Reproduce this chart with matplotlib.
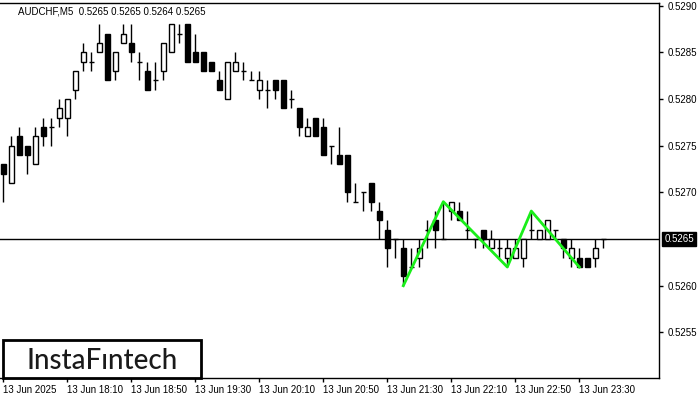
import matplotlib
matplotlib.use("Agg")
import matplotlib.pyplot as plt
import matplotlib.transforms as mtransforms
from matplotlib.patches import Rectangle

plt.rcParams['font.family'] = ['Liberation Sans', 'DejaVu Sans']

# AUDCHF M5 candles, 13 Jun 17:30 -> 23:45
opens = [0.5273, 0.5271, 0.5276, 0.5275, 0.5273, 0.5277, 0.5277, 0.5278, 0.5278, 0.5281,
         0.5284, 0.5284, 0.5285, 0.5287, 0.5283, 0.5286, 0.5286, 0.5284, 0.5283, 0.5282,
         0.5283, 0.5285, 0.5287, 0.5288, 0.5285, 0.5285, 0.5284, 0.5282, 0.5280, 0.5283,
         0.5283, 0.5282, 0.5281, 0.5281, 0.5282, 0.5282, 0.5280, 0.5279, 0.5276, 0.5278,
         0.5277, 0.5275, 0.5274, 0.5274, 0.5269, 0.5270, 0.5271, 0.5268, 0.5266, 0.5265,
         0.5264, 0.5262, 0.5263, 0.5266, 0.5267, 0.5265, 0.5268, 0.5268, 0.5266, 0.5265,
         0.5266, 0.5264, 0.5264, 0.5263, 0.5263, 0.5263, 0.5266, 0.5265, 0.5265, 0.5266,
         0.5265, 0.5263, 0.5263, 0.5263, 0.5263, 0.5265]
highs = [0.5273, 0.5276, 0.5277, 0.5275, 0.5277, 0.5278, 0.5278, 0.5280, 0.5280, 0.5283,
         0.5286, 0.5285, 0.5288, 0.5287, 0.5285, 0.5288, 0.5288, 0.5285, 0.5284, 0.5284,
         0.5286, 0.5288, 0.5288, 0.5288, 0.5287, 0.5285, 0.5284, 0.5283, 0.5284, 0.5285,
         0.5284, 0.5283, 0.5283, 0.5282, 0.5282, 0.5282, 0.5281, 0.5279, 0.5278, 0.5278,
         0.5278, 0.5275, 0.5277, 0.5274, 0.5271, 0.5270, 0.5271, 0.5269, 0.5267, 0.5265,
         0.5265, 0.5264, 0.5265, 0.5267, 0.5268, 0.5269, 0.5269, 0.5269, 0.5268, 0.5265,
         0.5266, 0.5266, 0.5265, 0.5265, 0.5265, 0.5265, 0.5268, 0.5266, 0.5267, 0.5266,
         0.5265, 0.5265, 0.5264, 0.5263, 0.5265, 0.5265]
lows = [0.5269, 0.5271, 0.5274, 0.5272, 0.5273, 0.5275, 0.5275, 0.5277, 0.5276, 0.5280,
        0.5283, 0.5283, 0.5285, 0.5282, 0.5282, 0.5286, 0.5284, 0.5282, 0.5281, 0.5281,
        0.5282, 0.5285, 0.5286, 0.5284, 0.5284, 0.5283, 0.5283, 0.5281, 0.5280, 0.5283,
        0.5282, 0.5282, 0.5280, 0.5279, 0.5280, 0.5279, 0.5279, 0.5276, 0.5276, 0.5276,
        0.5274, 0.5273, 0.5273, 0.5269, 0.5269, 0.5268, 0.5268, 0.5265, 0.5262, 0.5263,
        0.5260, 0.5262, 0.5262, 0.5264, 0.5264, 0.5265, 0.5267, 0.5267, 0.5265, 0.5264,
        0.5264, 0.5264, 0.5263, 0.5262, 0.5263, 0.5262, 0.5265, 0.5265, 0.5265, 0.5265,
        0.5263, 0.5262, 0.5262, 0.5262, 0.5262, 0.5264]
closes = [0.5272, 0.5275, 0.5274, 0.5274, 0.5276, 0.5276, 0.5277, 0.5279, 0.5280, 0.5283,
          0.5285, 0.5284, 0.5286, 0.5282, 0.5285, 0.5287, 0.5285, 0.5284, 0.5281, 0.5282,
          0.5286, 0.5288, 0.5287, 0.5284, 0.5284, 0.5283, 0.5283, 0.5281, 0.5284, 0.5284,
          0.5283, 0.5282, 0.5282, 0.5281, 0.5281, 0.5279, 0.5280, 0.5277, 0.5277, 0.5276,
          0.5274, 0.5275, 0.5273, 0.5270, 0.5269, 0.5270, 0.5269, 0.5267, 0.5264, 0.5265,
          0.5261, 0.5262, 0.5264, 0.5266, 0.5266, 0.5265, 0.5269, 0.5267, 0.5266, 0.5265,
          0.5265, 0.5265, 0.5264, 0.5264, 0.5264, 0.5265, 0.5266, 0.5266, 0.5267, 0.5266,
          0.5264, 0.5264, 0.5262, 0.5262, 0.5264, 0.5265]

# pattern line (candle index, price)
pattern_idx = [50, 55, 63, 66, 72]
pattern_px = [0.5260, 0.5269, 0.5262, 0.5268, 0.5262]

tick_idx = [0, 8, 16, 24, 32, 40, 48, 56, 64, 72]
tick_labels = ["13 Jun 2025", "13 Jun 18:10", "13 Jun 18:50", "13 Jun 19:30", "13 Jun 20:10",
               "13 Jun 20:50", "13 Jun 21:30", "13 Jun 22:10", "13 Jun 22:50", "13 Jun 23:30"]
price_ticks = [0.5255, 0.5260, 0.5270, 0.5275, 0.5280, 0.5285, 0.5290]
last_price = 0.5265
title = "AUDCHF,M5  0.5265 0.5265 0.5264 0.5265"

fig = plt.figure(figsize=(7, 4), dpi=100)
ax = fig.add_axes([0, 1 - 378 / 400, 659 / 700, 375 / 400])

body_w = 0.62
for i in range(len(opens)):
    o, h, l, c = opens[i], highs[i], lows[i], closes[i]
    ax.vlines(i, l, h, color="black", linewidth=1, zorder=2)
    if abs(c - o) < 1e-9:
        ax.hlines(o, i - body_w / 2, i + body_w / 2, color="black", linewidth=1, zorder=3)
    else:
        fc = "white" if c > o else "black"
        ax.bar(i, abs(c - o), bottom=min(o, c), width=body_w, color=fc,
               edgecolor="black", linewidth=1, zorder=3)

ax.axhline(last_price, color="black", linewidth=1, zorder=1)
ax.plot(pattern_idx, pattern_px, color="#1aee1a", linewidth=2, zorder=4)

ax.set_xlim(-0.41, 81.96)
ax.set_ylim(0.525011, 0.529029)

ax.yaxis.tick_right()
ax.set_yticks(price_ticks)
ax.set_yticklabels(["%.4f" % p for p in price_ticks])
ax.set_xticks(tick_idx)
ax.set_xticklabels(tick_labels, ha="left")
ax.tick_params(axis="both", labelsize=7, length=3, width=1, colors="black", pad=2)
ax.tick_params(axis="y", pad=3)
ax.spines["left"].set_visible(False)
for s in ["right", "top", "bottom"]:
    ax.spines[s].set_linewidth(1)

# current price box
trans = mtransforms.blended_transform_factory(ax.transAxes, ax.transData)
ax.text(1.008, last_price, "%.4f" % last_price, transform=trans, fontsize=7,
        color="white", va="center", ha="left",
        bbox=dict(boxstyle="square,pad=0.25", fc="black", ec="black"))

fig.text(18 / 700, 1 - 12 / 400, title, fontsize=7, va="center", ha="left")

# watermark
fig.patches.append(Rectangle((3 / 700, 1 - 378 / 400), 198 / 700, 38 / 400,
                             transform=fig.transFigure, facecolor="white",
                             edgecolor="black", linewidth=2, zorder=5))
fig.text(102 / 700, 1 - 369 / 400, "InstaF\u0131ntech", fontsize=20, color="#1a1a1a",
         family="Lato", fontweight="medium", ha="center", va="baseline", zorder=6)

fig.savefig("out.png", dpi=100)
